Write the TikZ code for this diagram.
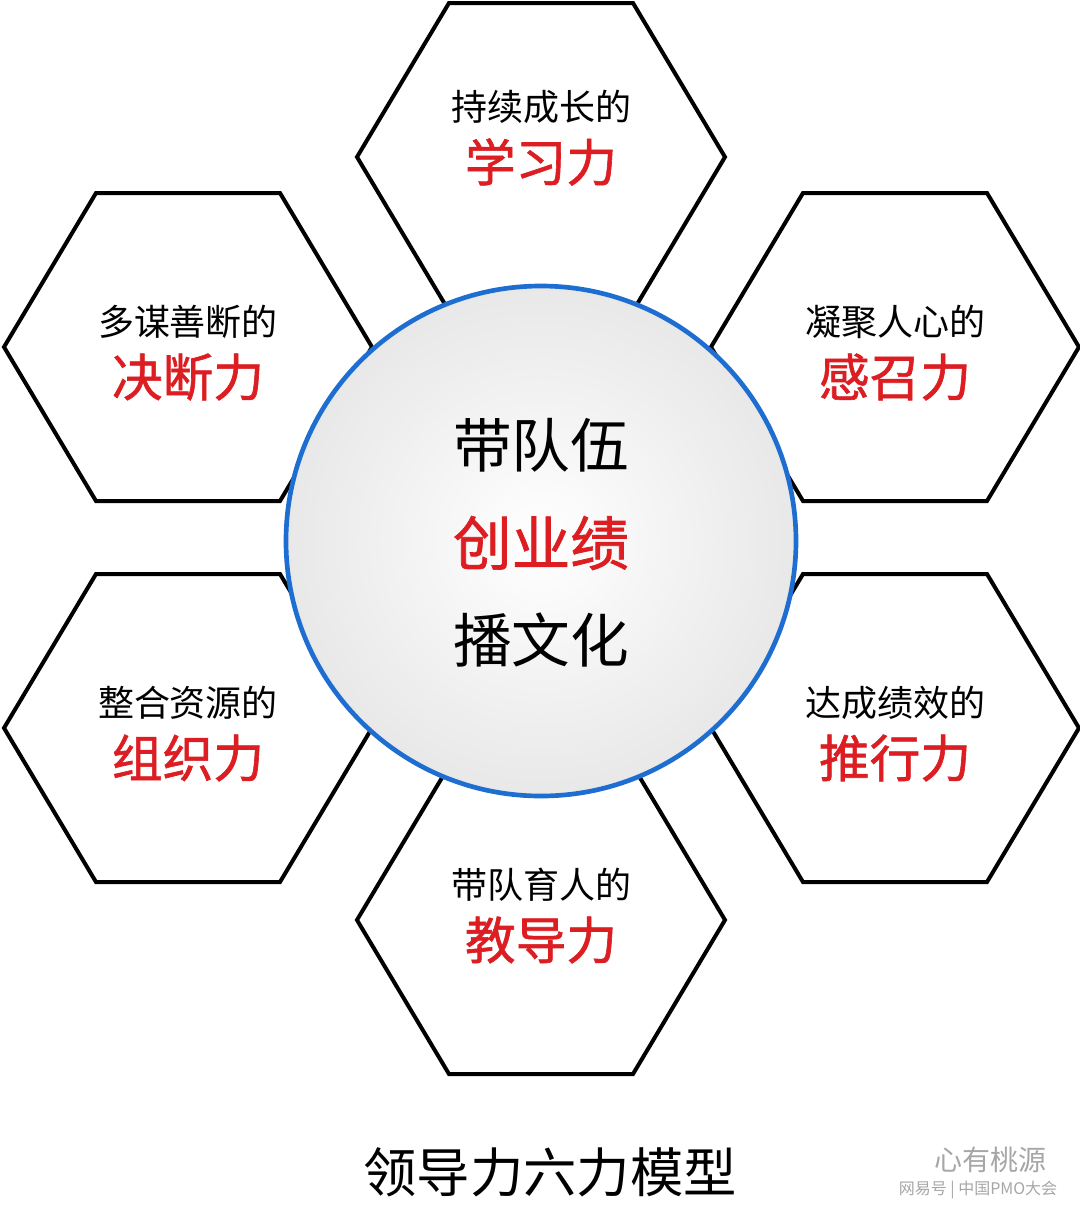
\documentclass[tikz,border=0pt]{standalone}
\usepackage{fontspec}
\setmainfont{Noto Sans CJK SC}
\newfontfamily\semibold[FakeBold=1.2]{Noto Sans CJK SC}
\begin{document}
\begin{tikzpicture}[x=0.75pt,y=-0.75pt]
\useasboundingbox (0,0) rectangle (1080,1208);
\definecolor{cred}{RGB}{220,30,35}
\definecolor{cblue}{RGB}{30,110,210}
\tikzset{hexbox/.style={draw=black,line width=3pt,fill=white,line join=miter},
 small/.style={font=\fontsize{27}{30}\selectfont},
 big/.style={font=\semibold\fontsize{38}{42}\selectfont,text=cred}}
\foreach \n/\cx/\cy/\ty/\a/\bb in {hA/541/157/107/持续成长的/学习力,hB/188/347/322/多谋善断的/决断力,hC/895/347/322/凝聚人心的/感召力,hD/188/728/703/整合资源的/组织力,hE/895/728/703/达成绩效的/推行力,hF/541/920/885/带队育人的/教导力}{
  \draw[hexbox] (\cx-184,\cy) -- (\cx-92,\cy-154) -- (\cx+92,\cy-154) -- (\cx+184,\cy) -- (\cx+92,\cy+154) -- (\cx-92,\cy+154) -- cycle;
  \node[small] (\n s) at (\cx,\ty) {\a};
  \node[big] (\n r) at (\cx,\ty+55) {\bb};
}
\node[circle,minimum size=382.5pt,inner sep=0pt,draw=cblue,line width=3.5pt,inner color=white,outer color=gray!18] (c) at (541,541) {};
\node[font=\fontsize{44}{48}\selectfont] (c1) at (541,445) {带队伍};
\node[font=\semibold\fontsize{44}{48}\selectfont,text=cred] (c2) at (541,543) {创业绩};
\node[font=\fontsize{44}{48}\selectfont] (c3) at (541,640) {播文化};
\node[font=\fontsize{40}{44}\selectfont] (cap) at (550,1172) {领导力六力模型};
\node[font=\fontsize{21}{24}\selectfont,text=gray!70] (wm1) at (990,1160) {心有桃源};
\node[font=\fontsize{12}{14}\selectfont,text=gray!70] (wm2) at (978,1190) {网易号 | 中国PMO大会};
\end{tikzpicture}
\end{document}
